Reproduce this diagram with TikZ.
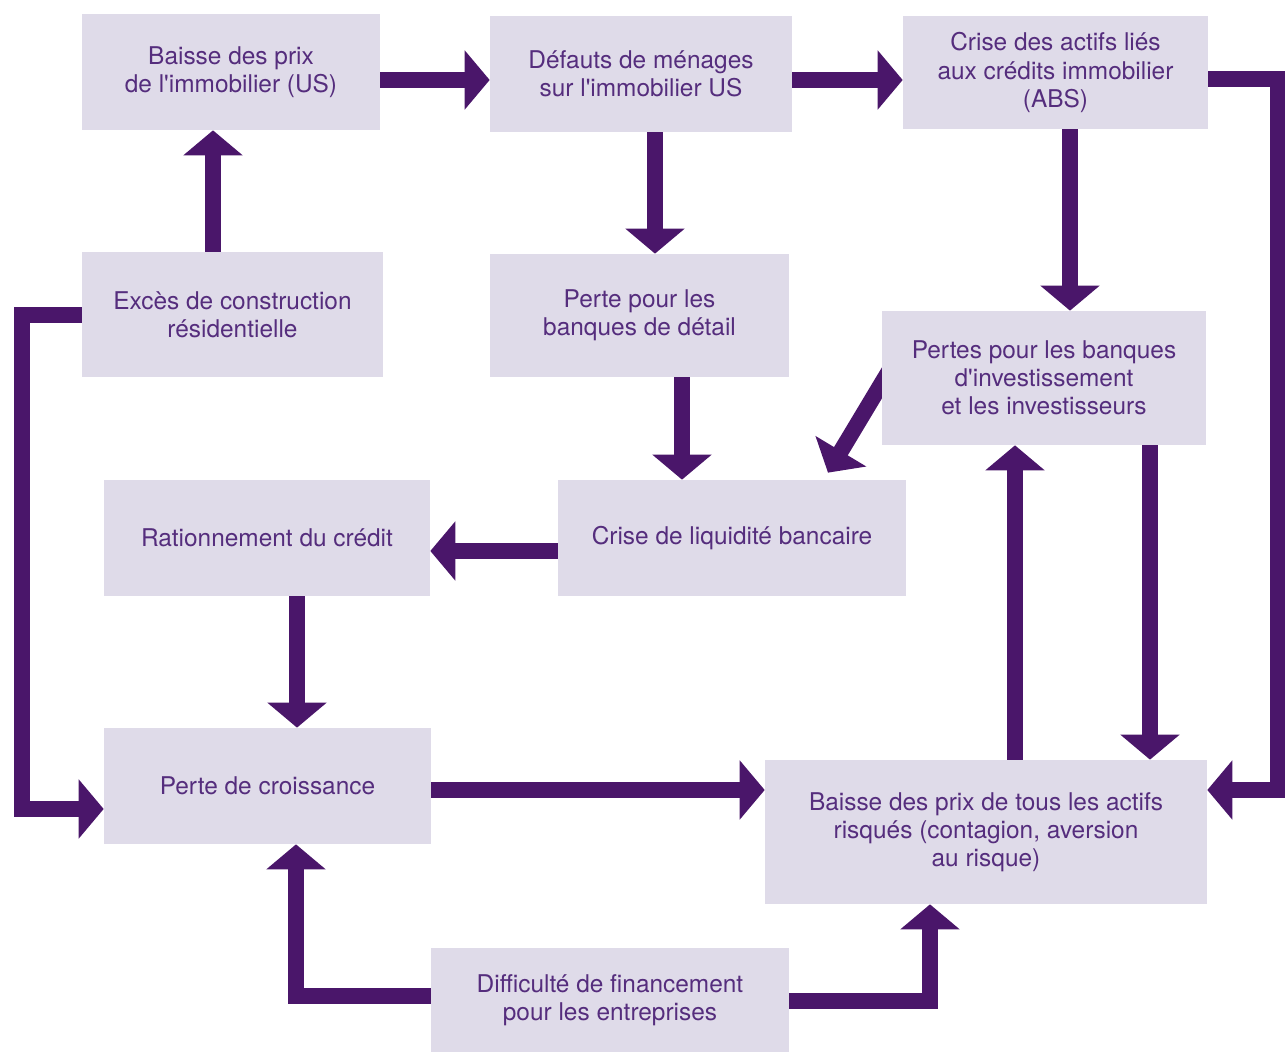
\documentclass[tikz,border=0pt]{standalone}
\usepackage{fontspec}
\setmainfont{TeX Gyre Heros}
\usepackage{xcolor}
\usepackage{tikz}
\usetikzlibrary{arrows.meta,backgrounds}
\definecolor{arrowpurple}{RGB}{74,22,106}
\definecolor{boxlilac}{RGB}{223,219,233}
\definecolor{textpurple}{RGB}{85,45,125}

\begin{document}
\begin{tikzpicture}[x=0.02cm, y=-0.02cm, every node/.style={font=\fontsize{13.9}{16}\selectfont},
  box/.style={fill=boxlilac, text=textpurple, align=center, inner sep=0pt},
  arr/.style={-{Triangle[length=5mm, width=11.6mm]}, line width=3.2mm, draw=arrowpurple}]
\useasboundingbox (0,0) rectangle (1285,1053);
\node[box, minimum width=5.96cm, minimum height=2.32cm] (prix) at (231,72) {Baisse des prix\\de l\textquotesingle immobilier (US)};
\node[box, minimum width=6.04cm, minimum height=2.32cm] (defauts) at (641,74) {Défauts de ménages\\sur l\textquotesingle immobilier US};
\node[box, minimum width=6.10cm, minimum height=2.26cm] (abs) at (1055.5,72.5) {Crise des actifs liés\\aux crédits immobilier\\(ABS)};
\node[box, minimum width=6.02cm, minimum height=2.50cm] (exces) at (232.5,314.5) {Excès de construction\\résidentielle};
\node[box, minimum width=5.98cm, minimum height=2.46cm] (detail) at (639.5,315.5) {Perte pour les\\banques de détail};
\node[box, minimum width=6.48cm, minimum height=2.68cm] (invest) at (1044,378) {Pertes pour les banques\\d\textquotesingle investissement\\et les investisseurs};
\node[box, minimum width=6.52cm, minimum height=2.32cm] (ration) at (267,538) {Rationnement du crédit};
\node[box, minimum width=6.96cm, minimum height=2.32cm] (liquid) at (732,538) {Crise de liquidité bancaire};
\node[box, minimum width=6.54cm, minimum height=2.32cm] (croiss) at (267.5,786) {Perte de croissance};
\node[box, minimum width=8.84cm, minimum height=2.88cm] (actifs) at (986,832) {Baisse des prix de tous les actifs\\risqués (contagion, aversion\\au risque)};
\node[box, minimum width=7.16cm, minimum height=2.08cm] (financ) at (610,1000) {Difficulté de financement\\pour les entreprises};
\begin{scope}[on background layer]
\draw[arr] (prix.east |- 0,80) -- (defauts.west |- 0,80);
\draw[arr] (defauts.east |- 0,80) -- (abs.west |- 0,80);
\draw[arr] (abs.east |- 0,79) -| (1278,790) -- (actifs.east |- 0,790);
\draw[arr] (defauts.south -| 655,0) -- (detail.north -| 655,0);
\draw[arr] (abs.south -| 1070,0) -- (invest.north -| 1070,0);
\draw[arr] (exces.north -| 213,0) -- (prix.south -| 213,0);
\draw[arr] (exces.west |- 0,315) -| (22,809) -- (croiss.west |- 0,809);
\draw[arr] (detail.south -| 682,0) -- (liquid.north -| 682,0);
\draw[arr] ([shift={(11,-13)}]invest.west) -- ([shift={(96,-7)}]liquid.north);
\draw[arr] (liquid.west |- 0,551) -- (ration.east |- 0,551);
\draw[arr] (ration.south -| 297,0) -- (croiss.north -| 297,0);
\draw[arr] (croiss.east |- 0,790) -- (actifs.west |- 0,790);
\draw[arr] (actifs.north -| 1015,0) -- (invest.south -| 1015,0);
\draw[arr] (invest.south -| 1150,0) -- (actifs.north -| 1150,0);
\draw[arr] (financ.west |- 0,996) -| (croiss.south -| 296,0);
\draw[arr] (financ.east |- 0,1001) -| (actifs.south -| 930,0);
\end{scope}
\end{tikzpicture}
\end{document}
